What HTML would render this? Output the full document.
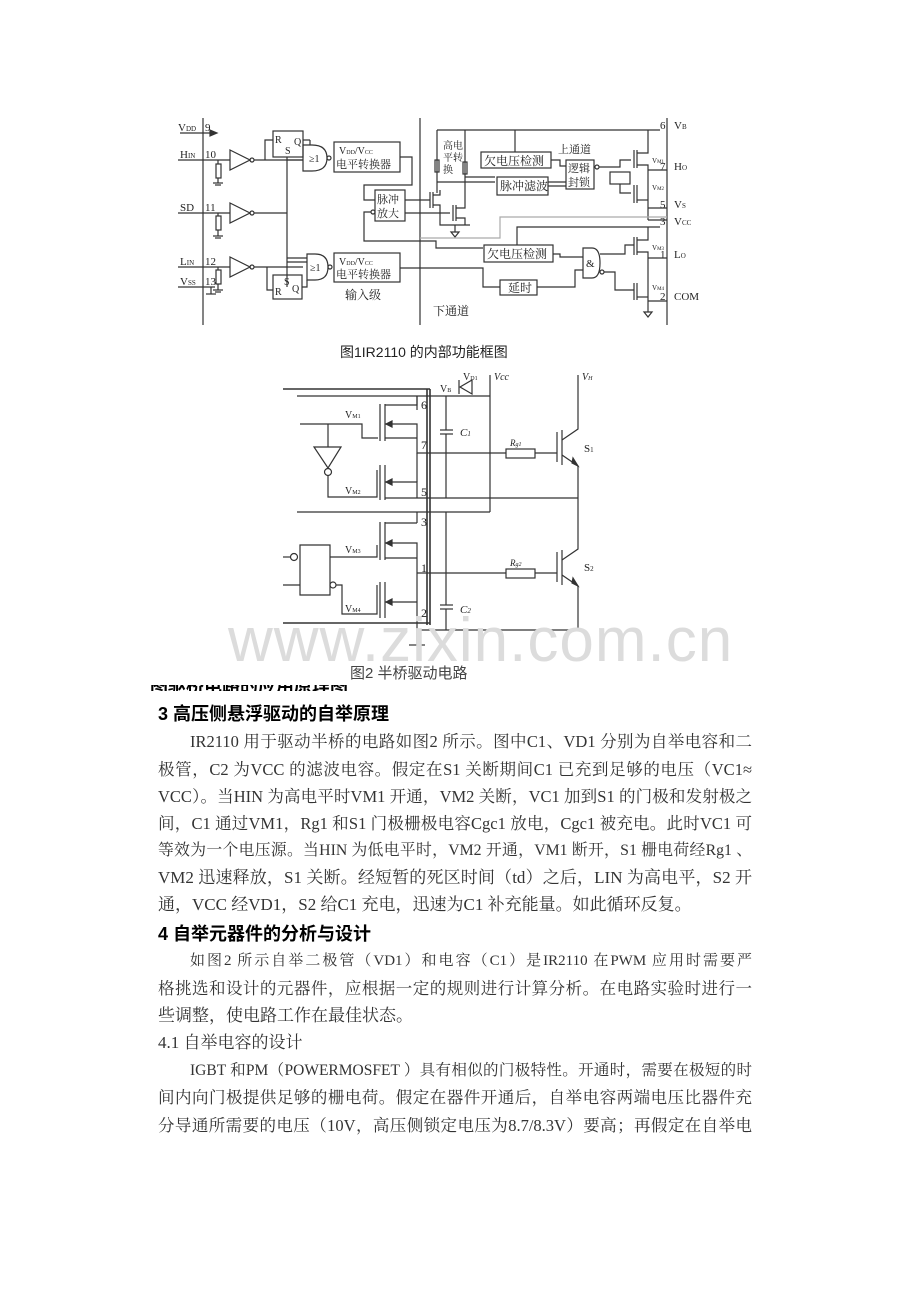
<!DOCTYPE html>
<html><head><meta charset="utf-8">
<style>
body{margin:0;background:#fff;width:920px;height:1302px;position:relative;overflow:hidden;font-family:"Liberation Serif","Noto Serif CJK SC",serif;}
.ln{position:absolute;left:158px;width:594px;height:22px;overflow:hidden;font-size:17px;color:#333;text-align:justify;text-align-last:justify;line-height:20px;}
.h{position:absolute;left:158px;font-size:18px;font-weight:bold;color:#000;font-family:"Liberation Sans","Noto Sans CJK SC",sans-serif;white-space:nowrap;}
svg{position:absolute;left:0;top:0}
svg text{font-family:"Liberation Serif","Noto Serif CJK SC",serif;fill:#222}
</style></head><body>
<svg width="920" height="700" viewBox="0 0 920 700" stroke="#333" fill="none" stroke-width="1.2">
<line x1="203" y1="118" x2="203" y2="325"/>
<line x1="420" y1="118" x2="420" y2="325"/>
<line x1="667" y1="118" x2="667" y2="325"/>
<g stroke="none" font-size="11">
<text x="178" y="131">V<tspan font-size="7">DD</tspan></text><text x="205" y="131">9</text>
<text x="180" y="158">H<tspan font-size="7">IN</tspan></text><text x="205" y="158">10</text>
<text x="180" y="211">SD</text><text x="205" y="211">11</text>
<text x="180" y="265">L<tspan font-size="7">IN</tspan></text><text x="205" y="265">12</text>
<text x="180" y="285">V<tspan font-size="7">SS</tspan></text><text x="205" y="285">13</text>
<text x="660" y="129">6</text><text x="674" y="129">V<tspan font-size="7">B</tspan></text>
<text x="660" y="170">7</text><text x="674" y="170">H<tspan font-size="7">O</tspan></text>
<text x="660" y="208">5</text><text x="674" y="208">V<tspan font-size="7">S</tspan></text>
<text x="660" y="225">3</text><text x="674" y="225">V<tspan font-size="7">CC</tspan></text>
<text x="660" y="258">1</text><text x="674" y="258">L<tspan font-size="7">O</tspan></text>
<text x="660" y="300">2</text><text x="674" y="300">COM</text>
</g>
<line x1="180" y1="133" x2="215" y2="133"/><path d="M210,130 L217,133 L210,136Z" fill="#333"/>
<line x1="178" y1="160" x2="230" y2="160"/><line x1="178" y1="213" x2="230" y2="213"/>
<line x1="178" y1="267" x2="230" y2="267"/><line x1="178" y1="287" x2="215" y2="287"/>
<g><rect x="216" y="164" width="5" height="14"/><line x1="218" y1="160" x2="218" y2="164"/><line x1="218" y1="178" x2="218" y2="183"/><line x1="213" y1="183" x2="223" y2="183"/><line x1="215" y1="185" x2="221" y2="185"/></g>
<g><rect x="216" y="216" width="5" height="14"/><line x1="218" y1="213" x2="218" y2="216"/><line x1="218" y1="230" x2="218" y2="236"/><line x1="213" y1="236" x2="223" y2="236"/><line x1="215" y1="238" x2="221" y2="238"/></g>
<g><rect x="216" y="270" width="5" height="14"/><line x1="218" y1="267" x2="218" y2="270"/><line x1="218" y1="284" x2="218" y2="290"/><line x1="213" y1="290" x2="223" y2="290"/><line x1="215" y1="292" x2="221" y2="292"/></g>
<line x1="211" y1="287" x2="211" y2="294"/><line x1="206" y1="294" x2="216" y2="294"/>
<path d="M230,150 L250,160 L230,170Z"/><circle cx="252" cy="160" r="2"/>
<path d="M230,203 L250,213 L230,223Z"/><circle cx="252" cy="213" r="2"/>
<path d="M230,257 L250,267 L230,277Z"/><circle cx="252" cy="267" r="2"/>
<line x1="254" y1="160" x2="303" y2="160"/><line x1="254" y1="213" x2="287" y2="213"/>
<line x1="254" y1="267" x2="303" y2="267"/>
<rect x="273" y="131" width="30" height="26"/>
<g stroke="none" font-size="10"><text x="275" y="143">R</text><text x="285" y="154">S</text><text x="294" y="145">Q</text></g>
<path d="M273,140 L265,140 L265,160"/>
<line x1="287" y1="157" x2="287" y2="287"/>
<path d="M303,145 L312,145 Q327,145 327,158 Q327,171 312,171 L303,171Z"/>
<text x="309" y="162" font-size="10" stroke="none">≥1</text><circle cx="329" cy="158" r="2"/>
<line x1="303" y1="140" x2="310" y2="140"/><line x1="310" y1="140" x2="310" y2="145"/>
<rect x="334" y="142" width="66" height="30"/>
<g stroke="none" font-size="10"><text x="339" y="154">V<tspan font-size="6">DD</tspan>/V<tspan font-size="6">CC</tspan></text><text x="336" y="168" font-size="11">电平转换器</text></g>
<rect x="273" y="275" width="29" height="24"/>
<g stroke="none" font-size="10"><text x="275" y="295">R</text><text x="284" y="285">S</text><text x="292" y="292">Q</text></g>
<path d="M267,267 L267,290 L273,290"/>
<path d="M307,254 L315,254 Q328,254 328,267 Q328,280 315,280 L307,280Z"/>
<text x="310" y="271" font-size="10" stroke="none">≥1</text><circle cx="330" cy="267" r="2"/>
<path d="M302,287 L307,287 L307,280"/>
<rect x="334" y="253" width="66" height="29"/>
<g stroke="none" font-size="10"><text x="339" y="265">V<tspan font-size="6">DD</tspan>/V<tspan font-size="6">CC</tspan></text><text x="336" y="278" font-size="11">电平转换器</text><text x="345" y="299" font-size="12">输入级</text><text x="433" y="315" font-size="12">下通道</text></g>
<line x1="287" y1="160" x2="303" y2="160"/><line x1="287" y1="262" x2="307" y2="262"/><line x1="287" y1="258" x2="307" y2="258"/>
<path d="M400,157 L412,157 L412,185 L364,185 L364,200 L375,200"/>
<rect x="375" y="190" width="30" height="31"/>
<g stroke="none" font-size="11"><text x="377" y="203">脉冲</text><text x="377" y="217">放大</text></g>
<circle cx="373" cy="212" r="2"/><path d="M371,212 L364,212 L364,241 L436,241 L436,248 L483,248"/>
<path d="M400,268 L483,268 L483,287 L500,287"/>
<line x1="437" y1="130" x2="660" y2="130"/>
<path d="M437,130 L437,193"/><path d="M465,130 L465,180"/>
<rect x="435" y="160" width="4" height="12"/><rect x="463" y="162" width="4" height="12"/>
<g stroke="none" font-size="10"><text x="443" y="149">高电</text><text x="443" y="161">平转</text><text x="443" y="173">换</text></g>
<line x1="405" y1="200" x2="430" y2="200"/><line x1="430" y1="192" x2="430" y2="208"/>
<line x1="433" y1="192" x2="433" y2="208"/><path d="M433,195 L440,195 L440,190"/><path d="M433,205 L440,205 L440,225 L470,225"/>
<line x1="405" y1="213" x2="450" y2="213"/><line x1="453" y1="205" x2="453" y2="221"/><line x1="456" y1="205" x2="456" y2="221"/>
<path d="M456,208 L465,208 L465,180"/><path d="M456,218 L465,218 L465,225"/>
<line x1="455" y1="225" x2="455" y2="232"/><path d="M451,232 L459,232 L455,237Z"/>
<path d="M437,182 L495,182"/><path d="M465,177 L495,177"/>
<line x1="515" y1="130" x2="515" y2="152"/>
<rect x="481" y="152" width="70" height="16"/><text x="484" y="165" font-size="12" stroke="none">欠电压检测</text>
<rect x="497" y="177" width="51" height="18"/><text x="500" y="190" font-size="12" stroke="none">脉冲滤波</text>
<text x="558" y="153" font-size="11" stroke="none">上通道</text>
<rect x="566" y="160" width="28" height="29"/><g stroke="none" font-size="11"><text x="568" y="172">逻辑</text><text x="568" y="186">封锁</text></g>
<path d="M551,160 L560,160 L560,166 L566,166"/><line x1="548" y1="182" x2="566" y2="182"/><line x1="548" y1="186" x2="566" y2="186"/>
<circle cx="597" cy="167" r="2"/><path d="M599,167 L620,167 L620,160 L631,160"/>
<rect x="610" y="172" width="20" height="12"/><path d="M620,184 L620,193 L631,193"/>
<line x1="634" y1="150" x2="634" y2="168"/><line x1="637" y1="150" x2="637" y2="168"/>
<path d="M637,153 L648,153 L648,130"/><path d="M637,165 L648,165 L648,220"/>
<line x1="634" y1="185" x2="634" y2="203"/><line x1="637" y1="185" x2="637" y2="203"/>
<path d="M637,200 L648,200"/><line x1="648" y1="170" x2="667" y2="170"/><line x1="648" y1="208" x2="667" y2="208"/>
<g stroke="none" font-size="7"><text x="652" y="163">V<tspan font-size="5">M1</tspan></text><text x="652" y="190">V<tspan font-size="5">M2</tspan></text><text x="652" y="250">V<tspan font-size="5">M3</tspan></text><text x="652" y="290">V<tspan font-size="5">M4</tspan></text></g>
<line x1="648" y1="220" x2="667" y2="220"/>
<path d="M420,238 L500,238 L500,217 L667,217" stroke="#aaa"/>
<path d="M517,245 L517,227 L660,227"/>
<rect x="484" y="245" width="69" height="17"/><text x="487" y="258" font-size="12" stroke="none">欠电压检测</text>
<rect x="500" y="280" width="37" height="15"/><text x="508" y="292" font-size="12" stroke="none">延时</text>
<path d="M583,248 L592,248 Q600,248 600,263 Q600,278 592,278 L583,278Z"/><text x="586" y="267" font-size="11" stroke="none">&amp;</text>
<path d="M553,254 L560,254 L560,257 L583,257"/><path d="M537,287 L575,287 L575,270 L583,270"/>
<circle cx="602" cy="272" r="2"/><path d="M600,254 L625,254 L625,245 L634,245"/><path d="M604,272 L615,272 L615,290 L634,290"/>
<line x1="634" y1="237" x2="634" y2="255"/><line x1="637" y1="237" x2="637" y2="255"/>
<path d="M637,240 L648,240 L648,227"/><path d="M637,252 L648,252 L648,282"/>
<line x1="634" y1="283" x2="634" y2="300"/><line x1="637" y1="283" x2="637" y2="300"/>
<path d="M637,297 L648,297"/><line x1="648" y1="258" x2="667" y2="258"/><line x1="648" y1="301" x2="667" y2="301"/>
<line x1="648" y1="282" x2="648" y2="312"/><path d="M644,312 L652,312 L648,317Z"/>
<text x="340" y="357" font-size="14" stroke="none" fill="#444" style="font-family:'Liberation Sans','Noto Sans CJK SC',sans-serif">图1IR2110 的内部功能框图</text>

<line x1="283" y1="389" x2="430" y2="389" stroke-width="1.6"/>
<line x1="297" y1="396" x2="490" y2="396"/>
<line x1="427" y1="389" x2="427" y2="625" stroke-width="1.6"/><line x1="430" y1="389" x2="430" y2="625" stroke-width="1.6"/>
<line x1="417" y1="396" x2="417" y2="410"/>
<g stroke="none" font-size="12"><text x="421" y="409">6</text><text x="421" y="449">7</text><text x="421" y="496">5</text><text x="421" y="526">3</text><text x="421" y="572">1</text><text x="421" y="617">2</text>
<text x="440" y="392" font-size="10">V<tspan font-size="6">B</tspan></text><text x="463" y="380" font-size="10">V<tspan font-size="6">D1</tspan></text><text x="494" y="380" font-size="10" font-style="italic">Vcc</text><text x="582" y="380" font-size="10" font-style="italic">V<tspan font-size="6">H</tspan></text>
<text x="460" y="436" font-size="11" font-style="italic">C<tspan font-size="7">1</tspan></text><text x="460" y="613" font-size="11" font-style="italic">C<tspan font-size="7">2</tspan></text>
<text x="584" y="452" font-size="11">S<tspan font-size="7">1</tspan></text><text x="584" y="571" font-size="11">S<tspan font-size="7">2</tspan></text>
<text x="510" y="446" font-size="9" font-style="italic">R<tspan font-size="6">g1</tspan></text><text x="510" y="566" font-size="9" font-style="italic">R<tspan font-size="6">g2</tspan></text>
<text x="345" y="418" font-size="10">V<tspan font-size="6">M1</tspan></text><text x="345" y="494" font-size="10">V<tspan font-size="6">M2</tspan></text><text x="345" y="553" font-size="10">V<tspan font-size="6">M3</tspan></text><text x="345" y="612" font-size="10">V<tspan font-size="6">M4</tspan></text></g>
<path d="M460,387 L472,380 L472,394Z" fill="none"/><line x1="459" y1="380" x2="459" y2="394"/>
<line x1="490" y1="375" x2="490" y2="512"/>
<line x1="446" y1="396" x2="446" y2="430"/><line x1="440" y1="430" x2="453" y2="430"/><line x1="440" y1="434" x2="453" y2="434"/><line x1="446" y1="434" x2="446" y2="498"/>
<line x1="446" y1="512" x2="446" y2="605"/><line x1="440" y1="605" x2="453" y2="605"/><line x1="440" y1="609" x2="453" y2="609"/><line x1="446" y1="609" x2="446" y2="630"/>
<path d="M417,396 L417,405 L385,405"/>
<line x1="380" y1="404" x2="380" y2="441"/><line x1="385" y1="404" x2="385" y2="441"/>
<path d="M385,424 L417,424 L417,453 L506,453"/><path d="M386,424 L392,421 L392,427Z" fill="#333"/>
<path d="M300,424 L362,424 L362,438 L378,438"/><line x1="385" y1="438" x2="417" y2="438"/>
<path d="M328,424 L328,447"/><path d="M314,447 L341,447 L328,468Z"/><circle cx="328" cy="472" r="3.5"/><path d="M328,475 L328,497 L377,497 L377,470"/>
<line x1="380" y1="465" x2="380" y2="500"/><line x1="385" y1="465" x2="385" y2="500"/>
<path d="M385,482 L417,482 L417,498"/><path d="M386,482 L392,479 L392,485Z" fill="#333"/>
<line x1="385" y1="498" x2="578" y2="498"/><line x1="417" y1="453" x2="417" y2="482"/>
<line x1="297" y1="512" x2="490" y2="512"/><line x1="417" y1="512" x2="417" y2="523"/><line x1="385" y1="523" x2="417" y2="523"/>
<line x1="380" y1="522" x2="380" y2="560"/><line x1="385" y1="522" x2="385" y2="560"/>
<path d="M385,543 L417,543 L417,617"/><path d="M386,543 L392,540 L392,546Z" fill="#333"/>
<line x1="385" y1="558" x2="417" y2="558"/><line x1="417" y1="573" x2="506" y2="573"/>
<path d="M300,545 L330,545 L330,595 L300,595Z"/><path d="M330,557 L377,557 L377,545"/>
<circle cx="294" cy="557" r="3.5"/><line x1="283" y1="557" x2="290" y2="557"/><line x1="283" y1="585" x2="300" y2="585"/>
<circle cx="333" cy="585" r="3"/><path d="M336,585 L342,585 L342,614 L377,614 L377,585"/>
<line x1="380" y1="582" x2="380" y2="618"/><line x1="385" y1="582" x2="385" y2="618"/>
<path d="M385,602 L417,602"/><path d="M386,602 L392,599 L392,605Z" fill="#333"/>
<line x1="283" y1="623" x2="430" y2="623" stroke-width="1.6"/><line x1="417" y1="617" x2="417" y2="645"/><line x1="409" y1="645" x2="425" y2="645"/>
<line x1="417" y1="630" x2="578" y2="630"/>
<rect x="506" y="449" width="29" height="9"/><line x1="535" y1="453" x2="557" y2="453"/>
<line x1="557" y1="432" x2="557" y2="462"/><line x1="562" y1="430" x2="562" y2="465"/>
<path d="M562,440 L578,429 L578,375"/><path d="M562,455 L578,466 L578,545"/><path d="M572,463 L578,466 L573,458Z" fill="#333"/>
<rect x="506" y="569" width="29" height="9"/><line x1="535" y1="573" x2="557" y2="573"/>
<line x1="557" y1="552" x2="557" y2="582"/><line x1="562" y1="550" x2="562" y2="585"/>
<path d="M562,560 L578,549 L578,545"/><path d="M562,575 L578,586 L578,630"/><path d="M572,583 L578,586 L573,578Z" fill="#333"/>
</svg>
<div style="position:absolute;left:228px;top:605px;font-family:'Liberation Sans',sans-serif;font-size:62px;color:#dcdcdc;letter-spacing:1px;">www.zixin.com.cn</div>
<div style="position:absolute;left:350px;top:662px;font-size:15px;color:#444;font-family:'Liberation Sans','Noto Sans CJK SC',sans-serif">图2 半桥驱动电路</div>
<div style="position:absolute;left:150px;top:685px;height:6px;overflow:hidden;width:250px"><div style="font-size:18px;font-weight:bold;margin-top:-13px;font-family:'Noto Sans CJK SC',sans-serif">图驱桥电路的应用原理图</div></div>

<div class="h" style="top:700px">3 高压侧悬浮驱动的自举原理</div>
<div class="ln" style="top:732px;left:190px;width:562px;font-size:16.5px">IR2110 用于驱动半桥的电路如图2 所示。图中C1、VD1 分别为自举电容和二</div>
<div class="ln" style="top:760px;font-size:16.5px">极管，C2 为VCC 的滤波电容。假定在S1 关断期间C1 已充到足够的电压（VC1≈</div>
<div class="ln" style="top:787px;font-size:16.5px">VCC）。当HIN 为高电平时VM1 开通，VM2 关断，VC1 加到S1 的门极和发射极之</div>
<div class="ln" style="top:814px;font-size:16.5px">间，C1 通过VM1，Rg1 和S1 门极栅极电容Cgc1 放电，Cgc1 被充电。此时VC1 可</div>
<div class="ln" style="top:841px;font-size:15.8px">等效为一个电压源。当HIN 为低电平时，VM2 开通，VM1 断开，S1 栅电荷经Rg1 、</div>
<div class="ln" style="top:868px">VM2 迅速释放，S1 关断。经短暂的死区时间（td）之后，LIN 为高电平，S2 开</div>
<div class="ln" style="top:895px;text-align-last:left;text-align:left">通，VCC 经VD1，S2 给C1 充电，迅速为C1 补充能量。如此循环反复。</div>
<div class="h" style="top:920px">4 自举元器件的分析与设计</div>
<div class="ln" style="top:951px;left:190px;width:562px;font-size:15px">如图2 所示自举二极管（VD1）和电容（C1）是IR2110 在PWM 应用时需要严</div>
<div class="ln" style="top:979px;font-size:16.5px">格挑选和设计的元器件，应根据一定的规则进行计算分析。在电路实验时进行一</div>
<div class="ln" style="top:1006px;text-align-last:left;text-align:left">些调整，使电路工作在最佳状态。</div>
<div class="ln" style="top:1033px;text-align-last:left;text-align:left">4.1 自举电容的设计</div>
<div class="ln" style="top:1061px;left:190px;width:562px;font-size:15.5px">IGBT 和PM（POWERMOSFET ）具有相似的门极特性。开通时，需要在极短的时</div>
<div class="ln" style="top:1088px;font-size:16.5px">间内向门极提供足够的栅电荷。假定在器件开通后，自举电容两端电压比器件充</div>
<div class="ln" style="top:1116px;font-size:16.5px">分导通所需要的电压（10V，高压侧锁定电压为8.7/8.3V）要高；再假定在自举电</div>
</body></html>
